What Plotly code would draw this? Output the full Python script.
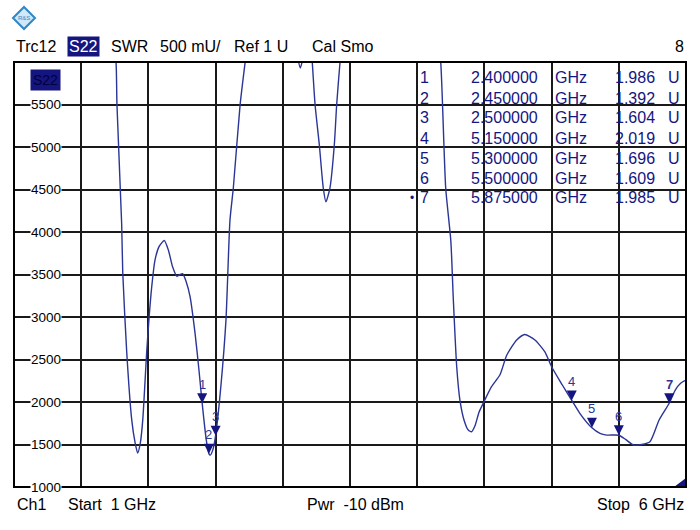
import plotly.graph_objects as go

# ---- trace data (frequency in GHz, SWR in mU) ----
freq_ghz = [1.00, 1.30, 1.60, 1.72, 1.759, 1.766, 1.801, 1.809, 1.839, 1.876, 1.90, 1.92, 1.94,
            1.958, 1.987, 2.004, 2.025, 2.049, 2.08, 2.118, 2.15, 2.18, 2.211, 2.235, 2.255, 2.28,
            2.31, 2.347, 2.376, 2.40, 2.43, 2.45, 2.46, 2.48, 2.50, 2.54, 2.577, 2.607, 2.632,
            2.682, 2.72, 2.76, 2.90, 3.05, 3.10, 3.13, 3.16, 3.19, 3.205, 3.219, 3.24, 3.272,
            3.301, 3.321, 3.351, 3.383, 3.401, 3.426, 3.46, 3.70, 4.00, 4.14, 4.175, 4.212,
            4.25, 4.269, 4.294, 4.318, 4.35, 4.38, 4.405, 4.43, 4.46, 4.491, 4.553, 4.616,
            4.666, 4.74, 4.80, 4.876, 4.95, 5.00, 5.08, 5.15, 5.21, 5.30, 5.36, 5.41, 5.50,
            5.55, 5.61, 5.67, 5.732, 5.80, 5.875, 5.92, 5.96, 6.00]
swr_mu = [6900, 7200, 7000, 6500, 6000, 5500, 4100, 3530, 2580, 1790, 1530, 1400, 1520,
          1790, 2580, 2970, 3360, 3670, 3830, 3900, 3780, 3590, 3480, 3500, 3510, 3420,
          3240, 2810, 2380, 1986, 1560, 1392, 1375, 1440, 1604, 2200, 2960, 4140, 4520,
          5490, 6000, 6500, 7000, 6500, 6150, 5930, 6100, 6200, 6250, 6000, 5500, 5020,
          4520, 4355, 4520, 5020, 5500, 6000, 6500, 7500, 7500, 6500, 6000, 4520,
          3900, 3200, 2415, 2020, 1780, 1670, 1650, 1720, 1880, 1984, 2180, 2320,
          2550, 2730, 2795, 2730, 2590, 2415, 2200, 2019, 1867, 1696, 1631, 1611, 1609,
          1560, 1494, 1500, 1533, 1788, 1985, 2141, 2220, 2258]

# ---- markers ----
marker_ids = ["1", "2", "3", "4", "5", "6", "7"]
marker_freq = [2.40, 2.45, 2.50, 5.15, 5.30, 5.50, 5.875]
marker_swr_u = [1.986, 1.392, 1.604, 2.019, 1.696, 1.609, 1.985]

# ---- axes ----
y_ticks = [1000, 1500, 2000, 2500, 3000, 3500, 4000, 4500, 5000, 5500]
x_start, x_stop = 1.0, 6.0
y_min, y_max = 1000, 6000

# ---- header / footer texts ----
header_items = [("Trc12", 14), ("SWR", 109), ("500 mU/", 158), ("Ref 1 U", 232), ("Cal Smo", 310)]
footer_items = [("Ch1", 15, "left"), ("Start  1 GHz", 66, "left"), ("Pwr  -10 dBm", 305, "left"),
                ("Stop  6 GHz", 686, "right")]

W, H = 700, 530
L, R, T, B = 14, 14, 62, 43
PW, PH = W - L - R, H - T - B

def px(x):
    return (x - L) / PW

def py(y):
    return (H - B - y) / PH

NAVY = "#15157f"
TRACE = "#2a3596"
FONT = "Liberation Sans, Arial, sans-serif"

fig = go.Figure()
fig.add_trace(go.Scatter(x=freq_ghz, y=swr_mu, mode="lines",
                         line=dict(color=TRACE, width=1.4, shape="spline", smoothing=0.6),
                         hoverinfo="skip", showlegend=False, cliponaxis=True))
fig.add_trace(go.Scatter(x=marker_freq, y=[v * 1000 for v in marker_swr_u], mode="markers",
                         marker=dict(symbol="arrow-down", size=10, color=NAVY,
                                     line=dict(width=0)),
                         hoverinfo="skip", showlegend=False, cliponaxis=False))

annotations = []
# marker numbers above triangles
for mid, f, v in zip(marker_ids, marker_freq, marker_swr_u):
    txt = f"<b>{mid}</b>" if mid == "7" else mid
    annotations.append(dict(x=f, y=v * 1000, xref="x", yref="y", text=txt, showarrow=False,
                            yshift=19, font=dict(family=FONT, size=13, color=TRACE)))

# y tick labels inside plot with white background
for t in y_ticks:
    annotations.append(dict(x=px(62), y=t, xref="paper", yref="y", text=str(t), showarrow=False,
                            xanchor="right", yanchor="middle", bgcolor="white", borderpad=0,
                            font=dict(family=FONT, size=13.5, color="black")))

# header
for txt, xpos in header_items:
    annotations.append(dict(x=px(xpos), y=py(46), xref="paper", yref="paper", text=txt,
                            showarrow=False, xanchor="left", yanchor="middle",
                            font=dict(family=FONT, size=16, color="black")))
annotations.append(dict(x=px(67), y=py(46), xref="paper", yref="paper", text="S22",
                        showarrow=False, xanchor="left", yanchor="middle", bgcolor=NAVY,
                        borderpad=1, font=dict(family=FONT, size=16, color="white")))
annotations.append(dict(x=px(686), y=py(46), xref="paper", yref="paper", text="8",
                        showarrow=False, xanchor="right", yanchor="middle",
                        font=dict(family=FONT, size=16, color="black")))
# footer
for txt, xpos, anc in footer_items:
    annotations.append(dict(x=px(xpos), y=py(505), xref="paper", yref="paper", text=txt,
                            showarrow=False, xanchor=anc, yanchor="middle",
                            font=dict(family=FONT, size=16, color="black")))

# S22 label box inside plot
annotations.append(dict(x=px(45), y=py(80), xref="paper", yref="paper", text="S22",
                        showarrow=False, xanchor="center", yanchor="middle", bgcolor=NAVY,
                        borderpad=2, font=dict(family=FONT, size=14, color="#000040")))

# marker table
for i, (mid, f, v) in enumerate(zip(marker_ids, marker_freq, marker_swr_u)):
    yy = py(78 + 20 * i)
    row = [(mid, 418, "left"), (f"{f:.6f}", 540, "right"), ("GHz", 553, "left"),
           (f"{v:.3f}", 657, "right"), ("U", 666, "left")]
    for txt, xpos, anc in row:
        annotations.append(dict(x=px(xpos), y=yy, xref="paper", yref="paper", text=txt,
                                showarrow=False, xanchor=anc, yanchor="middle",
                                font=dict(family=FONT, size=16, color=NAVY)))
annotations.append(dict(x=px(416), y=py(198), xref="paper", yref="paper", text="•",
                        showarrow=False, xanchor="right", yanchor="middle",
                        font=dict(family=FONT, size=12, color=NAVY)))
# logo text
annotations.append(dict(x=px(24), y=py(18), xref="paper", yref="paper", text="R&S",
                        showarrow=False, xanchor="center", yanchor="middle",
                        font=dict(family=FONT, size=6, color="#2f86c8")))

shapes = []
# logo diamond
cx, cy, r = 24, 18, 11
shapes.append(dict(type="path", xref="paper", yref="paper",
                   path=f"M {px(cx - r)},{py(cy)} L {px(cx)},{py(cy - r)} L {px(cx + r)},{py(cy)} L {px(cx)},{py(cy + r)} Z",
                   line=dict(color="#2f86c8", width=2), fillcolor="rgba(120,190,235,0.35)"))
# stop corner triangle
shapes.append(dict(type="path", xref="paper", yref="paper",
                   path=f"M {px(674)},{py(487)} L {px(686)},{py(487)} L {px(686)},{py(478)} Z",
                   line=dict(width=0), fillcolor=NAVY))
# plot frame
shapes.append(dict(type="rect", xref="paper", yref="paper", x0=0, y0=0, x1=1, y1=1,
                   line=dict(color="black", width=2), layer="above"))

fig.update_layout(
    width=W, height=H,
    margin=dict(l=L, r=R, t=T, b=B, pad=0),
    paper_bgcolor="white", plot_bgcolor="white",
    showlegend=False,
    xaxis=dict(range=[x_start, x_stop], dtick=0.5, tick0=1.0, showgrid=True,
               gridcolor="#1a1a1a", gridwidth=1.5, showticklabels=False, zeroline=False,
               showline=False, ticks="", fixedrange=True),
    yaxis=dict(range=[y_min, y_max], dtick=500, tick0=1000, showgrid=True,
               gridcolor="#1a1a1a", gridwidth=1.5, showticklabels=False, zeroline=False,
               showline=False, ticks="", fixedrange=True),
    annotations=annotations, shapes=shapes,
)

fig.write_html("out.html", config={"displayModeBar": False},
               post_script="document.body.style.margin='0';document.body.style.overflow='hidden';")
